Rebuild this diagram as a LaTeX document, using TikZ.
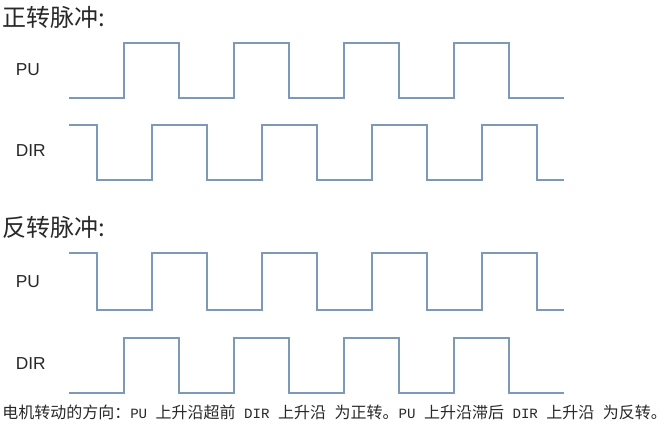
\documentclass[tikz,border=0pt]{standalone}
\usepackage{fontspec}
\setmainfont{Liberation Sans}
\newfontfamily\cjk{Noto Sans CJK SC}
\newfontfamily\latmono{Liberation Mono}
\newcommand\lat[1]{{\latmono\fontsize{10.6}{12}\selectfont #1}}
\definecolor{wave}{RGB}{125,153,184}
\definecolor{txt}{RGB}{40,40,40}
\begin{document}
\begin{tikzpicture}[x=0.75pt,y=-0.75pt,
  wavel/.style={draw=wave,line width=1.3pt,line join=miter},
  siglabel/.style={font=\fontsize{13}{15}\selectfont,text=txt,inner sep=0pt,anchor=west},
  title/.style={font=\cjk\fontsize{18}{20}\selectfont,text=txt,inner sep=0pt,anchor=west},
  note/.style={font=\cjk\fontsize{12}{14}\selectfont,text=txt,inner sep=0pt,anchor=west}]
\useasboundingbox (0,0) rectangle (665,427);
% titles
\node[title] (t1) at (2,17) {正转脉冲:};
\node[title] (t2) at (2,227) {反转脉冲:};
% labels
\node[siglabel] (pu1) at (15.5,70) {PU};
\node[siglabel] (dir1) at (15.5,151) {DIR};
\node[siglabel] (pu2) at (15.5,282) {PU};
\node[siglabel] (dir2) at (15.5,364) {DIR};
% forward: PU
\draw[wavel] (69,98)
  \foreach \s in {124,234,344,454} { -- (\s,98) -- (\s,43) -- ({\s+55},43) -- ({\s+55},98) } -- (564,98);
% forward: DIR
\draw[wavel] (69,125)
  \foreach \s in {97,207,317,427} { -- (\s,125) -- (\s,180) -- ({\s+55},180) -- ({\s+55},125) } -- (537,125) -- (537,180) -- (564,180);
% reverse: PU
\draw[wavel] (69,253)
  \foreach \s in {97,207,317,427} { -- (\s,253) -- (\s,310) -- ({\s+55},310) -- ({\s+55},253) } -- (537,253) -- (537,310) -- (564,310);
% reverse: DIR
\draw[wavel] (69,393)
  \foreach \s in {124,234,344,454} { -- (\s,393) -- (\s,338) -- ({\s+55},338) -- ({\s+55},393) } -- (564,393);
% note
\node[note] (n) at (2,412) {电机转动的方向：\lat{PU }上升沿超前\lat{ DIR }上升沿\lat{ }为正转。\lat{PU }上升沿滞后\lat{ DIR }上升沿\lat{ }为反转。};
\end{tikzpicture}
\end{document}
